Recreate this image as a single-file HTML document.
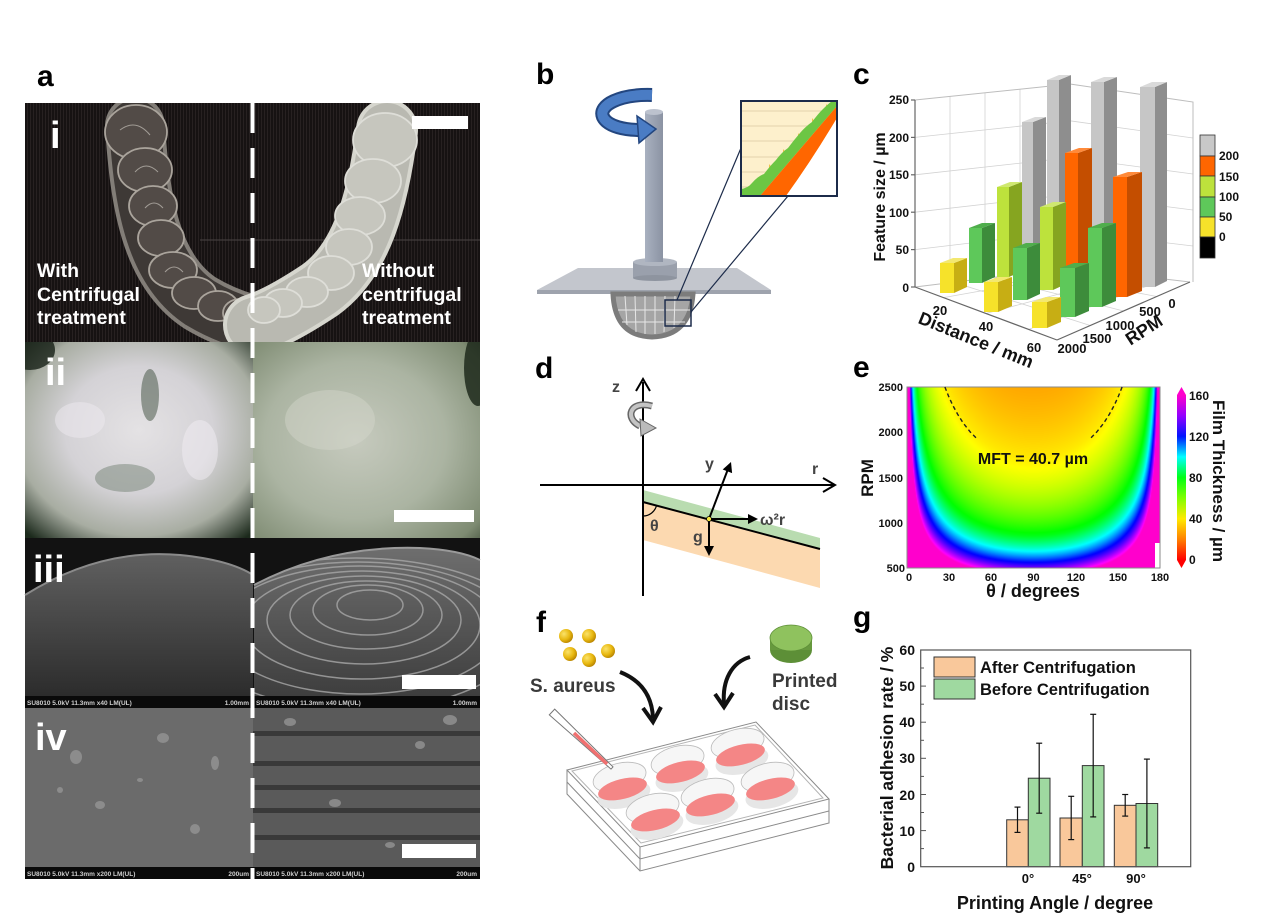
<!DOCTYPE html>
<html><head><meta charset="utf-8">
<style>
html,body{margin:0;padding:0;background:#fff;}
#wrap{position:relative;width:1267px;height:924px;overflow:hidden;background:#fff;}
#hm{position:absolute;left:907px;top:387px;width:253px;height:181px;
background:radial-gradient(ellipse 75% 170% at 50% 0%, #ff9a00 0%, #ffea00 20%, #80ff00 38%, #00ff40 50%, #00ffff 60%, #0015ff 70%, #9400ff 78%, #ff00cc 86%);}
svg{position:absolute;left:0;top:0;}
text{font-family:"Liberation Sans",Arial,sans-serif;font-weight:bold;}
</style></head><body><div id="wrap">
<canvas id="hm" width="253" height="181"></canvas>
<svg width="1267" height="924" viewBox="0 0 1267 924" xmlns="http://www.w3.org/2000/svg">
<defs>
<pattern id="tex" width="3" height="4" patternUnits="userSpaceOnUse"><rect width="3" height="4" fill="#161212"/><rect width="1" height="4" fill="#272121"/></pattern>
<radialGradient id="g2l" cx="0.5" cy="0.45" r="0.72"><stop offset="0" stop-color="#e4e2e4"/><stop offset="0.45" stop-color="#d4d2d6"/><stop offset="0.75" stop-color="#a8ada2"/><stop offset="1" stop-color="#1c2a1c"/></radialGradient>
<radialGradient id="g2r" cx="0.45" cy="0.5" r="0.8"><stop offset="0" stop-color="#c6cabe"/><stop offset="0.5" stop-color="#abb4a2"/><stop offset="0.85" stop-color="#7e8b72"/><stop offset="1" stop-color="#3c4a36"/></radialGradient>
<linearGradient id="domeL" x1="0" y1="0" x2="0" y2="1"><stop offset="0" stop-color="#606060"/><stop offset="1" stop-color="#2c2c2c"/></linearGradient>
<linearGradient id="domeR" x1="0" y1="0" x2="0" y2="1"><stop offset="0" stop-color="#6e6e6e"/><stop offset="1" stop-color="#3e3e3e"/></linearGradient>
<clipPath id="domeRClip"><path d="M254,585 Q330,545 420,548 Q460,550 480,560 L480,696 L254,696 Z"/></clipPath>
<clipPath id="c1"><rect x="25" y="103" width="455" height="240"/></clipPath>
<clipPath id="c2"><rect x="25" y="342" width="455" height="196"/></clipPath>
<linearGradient id="rod" x1="0" y1="0" x2="1" y2="0"><stop offset="0" stop-color="#a9b1c0"/><stop offset="1" stop-color="#8b93a3"/></linearGradient>
<linearGradient id="cbar" x1="0" y1="0" x2="0" y2="1">
<stop offset="0" stop-color="#ff00cc"/><stop offset="0.125" stop-color="#9400ff"/><stop offset="0.25" stop-color="#0015ff"/><stop offset="0.375" stop-color="#00ffff"/><stop offset="0.5" stop-color="#00ff15"/><stop offset="0.625" stop-color="#80ff00"/><stop offset="0.75" stop-color="#ffea00"/><stop offset="0.875" stop-color="#ff8000"/><stop offset="1" stop-color="#ff0000"/></linearGradient>
<radialGradient id="gold" cx="0.35" cy="0.35" r="0.7"><stop offset="0" stop-color="#fbe36a"/><stop offset="0.6" stop-color="#e8b810"/><stop offset="1" stop-color="#b88400"/></radialGradient>
</defs>

<!-- ================= PANEL A ================= -->
<text x="37" y="86" font-size="30" fill="#000">a</text>
<!-- row i -->
<rect x="25" y="103" width="455" height="240" fill="url(#tex)"/>
<line x1="200" y1="240" x2="480" y2="240" stroke="#4a4444" stroke-width="1"/>
<g clip-path="url(#c1)">
<path d="M135,126 C140,200 150,270 200,303 C225,318 245,323 253,325" stroke="#8e8983" stroke-width="60" fill="none" stroke-linecap="round" opacity="0.9"/>
<path d="M135,126 C140,200 150,270 200,303 C225,318 245,323 253,325" stroke="#3e3936" stroke-width="52" fill="none" stroke-linecap="round"/>
<g fill="#524b47" stroke="#aaa49c" stroke-width="1.8">
<ellipse cx="136" cy="132" rx="31" ry="27"/><ellipse cx="145" cy="170" rx="27" ry="22"/><ellipse cx="153" cy="206" rx="24" ry="20"/><ellipse cx="161" cy="238" rx="23" ry="18"/><ellipse cx="173" cy="270" rx="24" ry="18"/><ellipse cx="194" cy="293" rx="22" ry="16"/><ellipse cx="218" cy="306" rx="20" ry="15"/><ellipse cx="240" cy="313" rx="17" ry="14"/>
</g>
<g fill="none" stroke="#d8d4cc" stroke-width="1" opacity="0.6">
<path d="M120,130 Q136,118 150,135"/><path d="M135,172 Q146,160 158,172"/><path d="M145,208 Q154,198 163,208"/><path d="M165,272 Q174,262 183,272"/>
</g>
<path d="M387,130 C378,200 362,260 320,290 C290,310 270,320 254,325" stroke="#d6d6ce" stroke-width="62" fill="none" stroke-linecap="round"/>
<path d="M387,130 C378,200 362,260 320,290 C290,310 270,320 254,325" stroke="#b9b9b1" stroke-width="54" fill="none" stroke-linecap="round"/>
<g fill="#c6c6be" stroke="#dedeD8" stroke-width="1.8">
<ellipse cx="385" cy="140" rx="32" ry="27"/><ellipse cx="373" cy="181" rx="28" ry="22"/><ellipse cx="360" cy="216" rx="25" ry="19"/><ellipse cx="349" cy="247" rx="23" ry="18"/><ellipse cx="331" cy="273" rx="23" ry="17"/><ellipse cx="307" cy="292" rx="21" ry="15"/><ellipse cx="283" cy="303" rx="19" ry="14"/><ellipse cx="264" cy="310" rx="16" ry="13"/>
</g>
</g>
<rect x="412" y="116" width="56" height="13" fill="#fff"/>
<text x="50" y="148" font-size="38" fill="#fff">i</text>
<g font-size="19.5" fill="#fff">
<text x="37" y="277">With</text><text x="37" y="301">Centrifugal</text><text x="37" y="324">treatment</text>
<text x="362" y="277">Without</text><text x="362" y="301">centrifugal</text><text x="362" y="324">treatment</text>
</g>
<!-- row ii -->
<g clip-path="url(#c2)">
<rect x="25" y="342" width="228" height="196" fill="url(#g2l)"/>
<ellipse cx="150" cy="395" rx="9" ry="26" fill="#4a5a4a" opacity="0.55"/>
<ellipse cx="125" cy="478" rx="30" ry="14" fill="#6a7a6a" opacity="0.45"/>
<ellipse cx="200" cy="450" rx="18" ry="30" fill="#f2eef4" opacity="0.5"/>
<ellipse cx="80" cy="420" rx="25" ry="18" fill="#eeeaf0" opacity="0.5"/>
<ellipse cx="30" cy="350" rx="25" ry="20" fill="#162016" opacity="0.8"/>
<rect x="253" y="342" width="227" height="196" fill="url(#g2r)"/>
<ellipse cx="478" cy="368" rx="14" ry="38" fill="#1e2a1c" opacity="0.85"/>
<ellipse cx="330" cy="420" rx="45" ry="30" fill="#d4d6cc" opacity="0.45"/>
</g>
<rect x="394" y="510" width="80" height="12" fill="#fff"/>
<text x="45" y="385" font-size="38" fill="#fff">ii</text>
<!-- row iii -->
<rect x="25" y="538" width="228" height="170" fill="#121212"/>
<path d="M25,595 Q100,548 180,555 Q230,560 253,575 L253,696 L25,696 Z" fill="url(#domeL)"/>
<path d="M25,595 Q100,548 180,555 Q230,560 253,575" stroke="#8a8a8a" stroke-width="2" fill="none"/>
<rect x="253" y="538" width="227" height="170" fill="#121212"/>
<path d="M254,585 Q330,545 420,548 Q460,550 480,560 L480,696 L254,696 Z" fill="url(#domeR)"/>
<g clip-path="url(#domeRClip)" fill="none" stroke="#a8a8a8" stroke-width="1.5" opacity="0.8">
<ellipse cx="370" cy="605" rx="33" ry="15"/><ellipse cx="368" cy="610" rx="55" ry="25"/><ellipse cx="366" cy="615" rx="76" ry="34"/><ellipse cx="364" cy="620" rx="97" ry="44"/><ellipse cx="362" cy="625" rx="118" ry="54"/><ellipse cx="360" cy="630" rx="140" ry="64"/><ellipse cx="358" cy="636" rx="162" ry="74"/><ellipse cx="356" cy="642" rx="184" ry="84"/>
</g>
<path d="M254,585 Q330,545 420,548 Q460,550 480,560" stroke="#9a9a9a" stroke-width="2" fill="none"/>
<rect x="25" y="696" width="455" height="12" fill="#0a0a0a"/>
<g font-size="6.5" fill="#cfcfcf" style="font-weight:normal">
<text x="27" y="705">SU8010 5.0kV 11.3mm x40 LM(UL)</text><text x="249" y="705" text-anchor="end">1.00mm</text>
<text x="256" y="705">SU8010 5.0kV 11.3mm x40 LM(UL)</text><text x="477" y="705" text-anchor="end">1.00mm</text>
</g>
<rect x="402" y="675" width="74" height="14" fill="#fff"/>
<text x="33" y="582" font-size="38" fill="#fff">iii</text>
<!-- row iv -->
<rect x="25" y="708" width="228" height="171" fill="#6b6b6b"/>
<g fill="#8c8c8c"><ellipse cx="163" cy="738" rx="6" ry="5"/><ellipse cx="76" cy="757" rx="6" ry="7"/><ellipse cx="215" cy="763" rx="4" ry="7"/><ellipse cx="195" cy="829" rx="5" ry="5"/><ellipse cx="100" cy="805" rx="5" ry="4"/><ellipse cx="60" cy="790" rx="3" ry="3"/><ellipse cx="140" cy="780" rx="3" ry="2"/></g>
<rect x="253" y="708" width="227" height="171" fill="#5a5a5a"/>
<g fill="#393939"><rect x="253" y="731" width="227" height="5"/><rect x="253" y="761" width="227" height="5"/><rect x="253" y="785" width="227" height="5"/><rect x="253" y="808" width="227" height="5"/><rect x="253" y="835" width="227" height="5"/></g>
<g fill="#888"><ellipse cx="290" cy="722" rx="6" ry="4"/><ellipse cx="420" cy="745" rx="5" ry="4"/><ellipse cx="335" cy="803" rx="6" ry="4"/><ellipse cx="450" cy="720" rx="7" ry="5"/><ellipse cx="390" cy="845" rx="5" ry="3"/></g>
<rect x="25" y="867" width="455" height="12" fill="#0a0a0a"/>
<g font-size="6.5" fill="#cfcfcf" style="font-weight:normal">
<text x="27" y="876">SU8010 5.0kV 11.3mm x200 LM(UL)</text><text x="249" y="876" text-anchor="end">200um</text>
<text x="256" y="876">SU8010 5.0kV 11.3mm x200 LM(UL)</text><text x="477" y="876" text-anchor="end">200um</text>
</g>
<rect x="402" y="844" width="74" height="14" fill="#fff"/>
<text x="35" y="750" font-size="38" fill="#fff">iv</text>
<line x1="252.5" y1="103" x2="252.5" y2="879" stroke="#fff" stroke-width="4" stroke-dasharray="30 15"/>

<!-- ================= PANEL B ================= -->
<text x="536" y="84" font-size="30" fill="#000">b</text>
<polygon points="578,268 737,268 771,290 537,290" fill="#c3c6cd"/>
<polygon points="537,290 771,290 771,294 537,294" fill="#9ea3ad"/>
<path d="M613,294 Q615,336 652,337 Q690,336 693,294 Z" fill="#a5a5a5" stroke="#7c7c7c" stroke-width="5"/>
<g stroke="#e6e6e6" stroke-width="1"><line x1="625" y1="296" x2="627" y2="325"/><line x1="635" y1="296" x2="636" y2="332"/><line x1="645" y1="296" x2="645" y2="334"/><line x1="655" y1="296" x2="655" y2="334"/><line x1="665" y1="296" x2="664" y2="332"/><line x1="675" y1="296" x2="674" y2="328"/><line x1="618" y1="310" x2="690" y2="310"/><line x1="622" y1="322" x2="685" y2="322"/></g>
<rect x="633" y="262" width="44" height="16" fill="#9aa0ac"/>
<ellipse cx="655" cy="278" rx="22" ry="3" fill="#8e949f"/>
<ellipse cx="655" cy="262" rx="22" ry="4" fill="#b0b6c1"/>
<rect x="645" y="112" width="18" height="150" fill="url(#rod)"/>
<ellipse cx="654" cy="112" rx="9" ry="3" fill="#bcc2ce"/>
<path d="M652,95 C620,94 598,105 603,117 C608,127 626,130 640,130" stroke="#23467f" stroke-width="14" fill="none"/>
<path d="M652,95 C620,94 598,105 603,117 C608,127 626,130 640,130" stroke="#4a7cc4" stroke-width="10" fill="none"/>
<polygon points="637,116 656,129 639,143" fill="#4a7cc4" stroke="#23467f" stroke-width="1.5"/>
<rect x="665" y="300" width="26" height="26" fill="none" stroke="#1c2b4a" stroke-width="1.5"/>
<line x1="677" y1="300" x2="741" y2="148" stroke="#1c2b4a" stroke-width="1.2"/>
<line x1="691" y1="312" x2="788" y2="196" stroke="#1c2b4a" stroke-width="1.2"/>
<rect x="741" y="101" width="96" height="95" fill="#fdf0cc"/>
<g stroke="#d9c9a0" stroke-width="0.8"><line x1="741" y1="111" x2="826" y2="111"/><line x1="741" y1="126" x2="812" y2="126"/><line x1="741" y1="141" x2="798" y2="141"/><line x1="741" y1="157" x2="783" y2="157"/><line x1="741" y1="172" x2="769" y2="172"/><line x1="741" y1="187" x2="755" y2="187"/></g>
<g fill="#f3c24a"><polygon points="826,111 832,111 826,104"/><polygon points="812,126 818,126 812,118"/><polygon points="798,141 804,141 798,133"/><polygon points="783,157 790,157 783,149"/><polygon points="769,172 776,172 769,164"/><polygon points="755,187 762,187 755,180"/></g>
<path d="M741,196 L741,189 Q748,188 752,183 Q758,176 764,174 Q770,166 776,160 Q782,152 788,148 Q794,140 800,133 Q806,126 812,122 Q818,114 822,110 Q828,104 832,101 L837,101 L837,106 L760,196 Z" fill="#6cc644"/>
<path d="M760,196 L837,106 L837,118 Q812,160 786,196 Z" fill="#ff6600"/>
<path d="M786,196 Q812,160 837,118 L837,196 Z" fill="#fff"/>
<rect x="741" y="101" width="96" height="95" fill="none" stroke="#1c2b4a" stroke-width="2"/>

<!-- ================= PANEL C ================= -->
<text x="853" y="84" font-size="30" fill="#000">c</text>
<g stroke="#d2d2d2" stroke-width="0.8" fill="none">
<line x1="915" y1="249.6" x2="1070" y2="231.2"/><line x1="915" y1="212.2" x2="1070" y2="194.4"/><line x1="915" y1="174.8" x2="1070" y2="157.6"/><line x1="915" y1="137.4" x2="1070" y2="120.8"/>
<line x1="1070" y1="231.2" x2="1193" y2="246"/><line x1="1070" y1="194.4" x2="1193" y2="210"/><line x1="1070" y1="157.6" x2="1193" y2="174"/><line x1="1070" y1="120.8" x2="1193" y2="138"/>
<line x1="950" y1="96.4" x2="950" y2="282.7"/><line x1="985" y1="92.8" x2="985" y2="278.4"/><line x1="1020" y1="89.2" x2="1020" y2="274.1"/><line x1="1070" y1="84" x2="1070" y2="268"/>
<line x1="1110" y1="89.9" x2="1110" y2="272.6"/><line x1="1150" y1="95.7" x2="1150" y2="277.1"/>
<line x1="943.4" y1="297.6" x2="1094" y2="270.8"/><line x1="986" y1="313.5" x2="1130" y2="275"/><line x1="1028.6" y1="329.4" x2="1166" y2="279.2"/>
<line x1="953.75" y1="282.25" x2="1090.25" y2="325.5"/><line x1="992.5" y1="277.5" x2="1123.5" y2="311"/><line x1="1031" y1="272.75" x2="1156.75" y2="296.5"/>
</g>
<g stroke="#bdbdbd" stroke-width="1" fill="none">
<polyline points="915,100 1070,84 1193,102 1193,282"/><line x1="915" y1="287" x2="1070" y2="268"/><line x1="1070" y1="268" x2="1190" y2="282"/>
</g>
<!-- bars row RPM 0 -->
<g>
<rect x="1047" y="80" width="12" height="183" fill="#c6c6c6"/><polygon points="1059,80 1071,75 1071,257 1059,263" fill="#8e8e8e"/><polygon points="1047,80 1059,80 1071,75 1059,75" fill="#dadada"/>
<rect x="1091" y="82" width="13" height="195" fill="#c6c6c6"/><polygon points="1104,82 1117,77 1117,271 1104,277" fill="#8e8e8e"/><polygon points="1091,82 1104,82 1117,77 1104,77" fill="#dadada"/>
<rect x="1140" y="87" width="15" height="200" fill="#c6c6c6"/><polygon points="1155,87 1167,82 1167,281 1155,287" fill="#8e8e8e"/><polygon points="1140,87 1155,87 1167,82 1152,82" fill="#dadada"/>
</g>
<!-- row 500 -->
<g>
<rect x="1022" y="122" width="11" height="148" fill="#c6c6c6"/><polygon points="1033,122 1046,117 1046,264 1033,270" fill="#8e8e8e"/><polygon points="1022,122 1033,122 1046,117 1035,117" fill="#dadada"/>
<rect x="1065" y="153" width="13" height="130" fill="#ff6600"/><polygon points="1078,153 1092,148 1092,277 1078,283" fill="#c44e00"/><polygon points="1065,153 1078,153 1092,148 1079,148" fill="#ff8a3a"/>
<rect x="1113" y="177" width="14" height="120" fill="#ff6600"/><polygon points="1127,177 1142,172 1142,291 1127,297" fill="#c44e00"/><polygon points="1113,177 1127,177 1142,172 1128,172" fill="#ff8a3a"/>
</g>
<!-- row 1000 -->
<g>
<rect x="997" y="187" width="12" height="90" fill="#bde23c"/><polygon points="1009,187 1022,182 1022,271 1009,277" fill="#86a520"/><polygon points="997,187 1009,187 1022,182 1010,182" fill="#cfe870"/>
<rect x="1040" y="207" width="13" height="83" fill="#bde23c"/><polygon points="1053,207 1066,202 1066,284 1053,290" fill="#86a520"/><polygon points="1040,207 1053,207 1066,202 1053,202" fill="#cfe870"/>
<rect x="1088" y="228" width="14" height="79" fill="#5ec85a"/><polygon points="1102,228 1116,223 1116,301 1102,307" fill="#3d8c3b"/><polygon points="1088,228 1102,228 1116,223 1102,223" fill="#4fae4c"/>
</g>
<!-- row 1500 -->
<g>
<rect x="969" y="228" width="13" height="55" fill="#5ec85a"/><polygon points="982,228 995,223 995,277 982,283" fill="#3d8c3b"/><polygon points="969,228 982,228 995,223 982,223" fill="#4fae4c"/>
<rect x="1013" y="248" width="14" height="52" fill="#5ec85a"/><polygon points="1027,248 1040,243 1040,294 1027,300" fill="#3d8c3b"/><polygon points="1013,248 1027,248 1040,243 1026,243" fill="#4fae4c"/>
<rect x="1060" y="268" width="15" height="49" fill="#5ec85a"/><polygon points="1075,268 1089,263 1089,311 1075,317" fill="#3d8c3b"/><polygon points="1060,268 1075,268 1089,263 1074,263" fill="#4fae4c"/>
</g>
<!-- row 2000 -->
<g>
<rect x="940" y="263" width="14" height="30" fill="#f6e22a"/><polygon points="954,263 967,258 967,287 954,293" fill="#c7ae14"/><polygon points="940,263 954,263 967,258 953,258" fill="#f3e870"/>
<rect x="984" y="282" width="14" height="30" fill="#f6e22a"/><polygon points="998,282 1012,277 1012,306 998,312" fill="#c7ae14"/><polygon points="984,282 998,282 1012,277 998,277" fill="#f3e870"/>
<rect x="1032" y="302" width="15" height="26" fill="#f6e22a"/><polygon points="1047,302 1061,297 1061,322 1047,328" fill="#c7ae14"/><polygon points="1032,302 1047,302 1061,297 1046,297" fill="#f3e870"/>
</g>
<g stroke="#666" stroke-width="1.2" fill="none">
<line x1="915" y1="100" x2="915" y2="287"/><line x1="915" y1="287" x2="1057" y2="340"/><line x1="1057" y1="340" x2="1190" y2="282"/>
<line x1="911" y1="100" x2="915" y2="100"/><line x1="911" y1="137.4" x2="915" y2="137.4"/><line x1="911" y1="174.8" x2="915" y2="174.8"/><line x1="911" y1="212.2" x2="915" y2="212.2"/><line x1="911" y1="249.6" x2="915" y2="249.6"/><line x1="911" y1="287" x2="915" y2="287"/>
</g>
<g font-size="12" fill="#111" text-anchor="end">
<text x="909" y="104">250</text><text x="909" y="142">200</text><text x="909" y="179">150</text><text x="909" y="217">100</text><text x="909" y="254">50</text><text x="909" y="292">0</text>
</g>
<text transform="translate(885,197) rotate(-90)" font-size="16" text-anchor="middle" fill="#111">Feature size / µm</text>
<g font-size="13" fill="#111" text-anchor="middle">
<text x="940" y="315">20</text><text x="986" y="331">40</text><text x="1034" y="352">60</text>
<text x="1072" y="353">2000</text><text x="1097" y="343">1500</text><text x="1120" y="330">1000</text><text x="1150" y="316">500</text><text x="1172" y="308">0</text>
</g>
<text transform="translate(976,340) rotate(22)" font-size="18" text-anchor="middle" fill="#111" y="6">Distance / mm</text>
<text transform="translate(1144,330) rotate(-33)" font-size="18" text-anchor="middle" fill="#111" y="6">RPM</text>
<g stroke="#333" stroke-width="0.8">
<rect x="1200" y="135" width="15" height="21" fill="#c8c8c8"/><rect x="1200" y="156" width="15" height="20" fill="#ff6600"/><rect x="1200" y="176" width="15" height="21" fill="#bde23c"/><rect x="1200" y="197" width="15" height="20" fill="#5ec85a"/><rect x="1200" y="217" width="15" height="20" fill="#f6e22a"/><rect x="1200" y="237" width="15" height="21" fill="#000"/>
</g>
<g font-size="12" fill="#111"><text x="1219" y="160">200</text><text x="1219" y="181">150</text><text x="1219" y="201">100</text><text x="1219" y="221">50</text><text x="1219" y="241">0</text></g>

<!-- ================= PANEL D ================= -->
<text x="535" y="378" font-size="30" fill="#000">d</text>
<polygon points="643,490 820,538 820,549 643,502" fill="#b9dcb0"/>
<polygon points="643,502 820,549 820,588 643,540" fill="#fcd9b0"/>
<line x1="643" y1="382" x2="643" y2="596" stroke="#000" stroke-width="2"/>
<polyline points="636,391 643,379 650,391" stroke="#000" stroke-width="2" fill="none"/>
<line x1="540" y1="485" x2="833" y2="485" stroke="#000" stroke-width="2"/>
<polyline points="823,478 835,485 823,492" stroke="#000" stroke-width="2" fill="none"/>
<line x1="643" y1="502" x2="820" y2="549" stroke="#000" stroke-width="2"/>
<path d="M643,516 A14,14 0 0 0 656.5,505.6" stroke="#000" stroke-width="1.2" fill="none"/>
<line x1="709" y1="519" x2="728" y2="469" stroke="#000" stroke-width="2"/>
<polygon points="731,462 732.1,473.1 722.7,469.5" fill="#000"/>
<line x1="709" y1="519" x2="750" y2="519" stroke="#000" stroke-width="2"/>
<polygon points="758,519 748,514 748,524" fill="#000"/>
<line x1="709" y1="519" x2="709" y2="548" stroke="#000" stroke-width="2"/>
<polygon points="709,556 704,546 714,546" fill="#000"/>
<circle cx="709" cy="519" r="2.5" fill="#f5e642" stroke="#000" stroke-width="0.8"/>
<path d="M652,406 C630,400 624,418 640,426" stroke="#666" stroke-width="7" fill="none"/>
<path d="M652,406 C630,400 624,418 640,426" stroke="#c4c4c4" stroke-width="4" fill="none"/>
<polygon points="640,419 656,428 641,436" fill="#bbb" stroke="#666" stroke-width="1"/>
<g font-size="16" fill="#444">
<text x="612" y="392">z</text><text x="812" y="474">r</text><text x="705" y="469">y</text><text x="760" y="525">ω²r</text><text x="693" y="542">g</text><text x="650" y="531">θ</text>
</g>

<!-- ================= PANEL E ================= -->
<text x="853" y="377" font-size="30" fill="#000">e</text>
<rect x="1155" y="543" width="5" height="25" fill="#fff"/>
<rect x="907" y="387" width="253" height="181" fill="none" stroke="#8a8a8a" stroke-width="1"/>
<polyline points="944.9,387 948.5,396 952.6,405 957.5,414 963.3,423.2 970.5,432.25 976.7,438.5" fill="none" stroke="#222" stroke-width="1.4" stroke-dasharray="4 3"/>
<polyline points="1122.1,387 1118.5,396 1114.4,405 1109.5,414 1103.7,423.2 1096.5,432.25 1090.3,438.5" fill="none" stroke="#222" stroke-width="1.4" stroke-dasharray="4 3"/>
<text x="1033" y="464" font-size="16" text-anchor="middle" fill="#111">MFT = 40.7 µm</text>
<g font-size="11" fill="#111" text-anchor="end">
<text x="903" y="391">2500</text><text x="903" y="436">2000</text><text x="903" y="482">1500</text><text x="903" y="527">1000</text><text x="905" y="572">500</text>
</g>
<g font-size="11" fill="#111" text-anchor="middle">
<text x="909" y="581">0</text><text x="949" y="581">30</text><text x="991" y="581">60</text><text x="1033.5" y="581">90</text><text x="1076" y="581">120</text><text x="1118" y="581">150</text><text x="1160" y="581">180</text>
</g>
<text transform="translate(873,478) rotate(-90)" font-size="17" text-anchor="middle" fill="#111">RPM</text>
<text x="1033" y="597" font-size="18" text-anchor="middle" fill="#111">θ / degrees</text>
<rect x="1177" y="395" width="9" height="165" fill="url(#cbar)"/>
<polygon points="1177,395 1181.5,387 1186,395" fill="#ff00cc"/>
<polygon points="1177,560 1181.5,568 1186,560" fill="#ff0000"/>
<g font-size="12" fill="#111">
<text x="1189" y="400">160</text><text x="1189" y="441">120</text><text x="1189" y="482">80</text><text x="1189" y="523">40</text><text x="1189" y="564">0</text>
</g>
<text transform="translate(1213,481) rotate(90)" font-size="17" text-anchor="middle" fill="#111">Film Thickness / µm</text>

<!-- ================= PANEL F ================= -->
<text x="536" y="632" font-size="30" fill="#000">f</text>
<g fill="url(#gold)"><circle cx="566" cy="636" r="7"/><circle cx="589" cy="636" r="7"/><circle cx="608" cy="651" r="7"/><circle cx="570" cy="654" r="7"/><circle cx="589" cy="660" r="7"/></g>
<text x="530" y="692" font-size="19" fill="#3a3a3a">S. aureus</text>
<ellipse cx="791" cy="650" rx="21" ry="13" fill="#5d8f37"/>
<rect x="770" y="638" width="42" height="12" fill="#67993e"/>
<ellipse cx="791" cy="638" rx="21" ry="13" fill="#8fc25e" stroke="#5d8f37" stroke-width="0.8"/>
<text x="772" y="687" font-size="19" fill="#3a3a3a">Printed</text>
<text x="772" y="710" font-size="19" fill="#3a3a3a">disc</text>
<path d="M620,672 C640,680 652,695 653,718" stroke="#111" stroke-width="4" fill="none"/>
<polyline points="643,708 653,722 661,707" stroke="#111" stroke-width="4" fill="none"/>
<path d="M750,657 C732,662 722,680 724,704" stroke="#111" stroke-width="4" fill="none"/>
<polyline points="715,694 724,707 733,693" stroke="#111" stroke-width="4" fill="none"/>
<!-- plate -->
<g stroke="#8a8a8a" stroke-width="1" fill="none">
<polygon points="567,770 756,722 829,799 640,847"/>
<polyline points="567,770 567,782 640,859 829,811 829,799"/>
<line x1="640" y1="847" x2="640" y2="859"/>
<polyline points="567,782 567,794 640,871 829,823 829,811"/>
<line x1="640" y1="859" x2="640" y2="871"/>
<polygon points="572,771 755,725 823,798 641,843" stroke="#b5b5b5"/>
</g>
<g>
<g transform="rotate(-14 622 787)"><ellipse cx="622" cy="795" rx="27" ry="13" fill="#e6e6e6"/><ellipse cx="622" cy="777" rx="27" ry="14" fill="#f6f6f6" stroke="#bbb" stroke-width="0.8"/><ellipse cx="622" cy="789" rx="25" ry="10" fill="#f48686"/></g>
<g transform="rotate(-14 680 770)"><ellipse cx="680" cy="778" rx="27" ry="13" fill="#e6e6e6"/><ellipse cx="680" cy="760" rx="27" ry="14" fill="#f6f6f6" stroke="#bbb" stroke-width="0.8"/><ellipse cx="680" cy="772" rx="25" ry="10" fill="#f48686"/></g>
<g transform="rotate(-14 740 753)"><ellipse cx="740" cy="761" rx="27" ry="13" fill="#e6e6e6"/><ellipse cx="740" cy="743" rx="27" ry="14" fill="#f6f6f6" stroke="#bbb" stroke-width="0.8"/><ellipse cx="740" cy="755" rx="25" ry="10" fill="#f48686"/></g>
<g transform="rotate(-14 655 818)"><ellipse cx="655" cy="826" rx="27" ry="13" fill="#e6e6e6"/><ellipse cx="655" cy="808" rx="27" ry="14" fill="#f6f6f6" stroke="#bbb" stroke-width="0.8"/><ellipse cx="655" cy="820" rx="25" ry="10" fill="#f48686"/></g>
<g transform="rotate(-14 710 803)"><ellipse cx="710" cy="811" rx="27" ry="13" fill="#e6e6e6"/><ellipse cx="710" cy="793" rx="27" ry="14" fill="#f6f6f6" stroke="#bbb" stroke-width="0.8"/><ellipse cx="710" cy="805" rx="25" ry="10" fill="#f48686"/></g>
<g transform="rotate(-14 770 787)"><ellipse cx="770" cy="795" rx="27" ry="13" fill="#e6e6e6"/><ellipse cx="770" cy="777" rx="27" ry="14" fill="#f6f6f6" stroke="#bbb" stroke-width="0.8"/><ellipse cx="770" cy="789" rx="25" ry="10" fill="#f48686"/></g>
</g>
<polygon points="554.7,709.1 613,766.9 611,769.1 549.3,714.9" fill="#fff" stroke="#777" stroke-width="1"/>
<line x1="574" y1="733" x2="607" y2="764" stroke="#f07070" stroke-width="3.5"/>

<!-- ================= PANEL G ================= -->
<text x="853" y="627" font-size="30" fill="#000">g</text>
<g stroke="#333" stroke-width="1">
<rect x="1006.7" y="819.8" width="21.6" height="46.9" fill="#f9c89b"/>
<rect x="1028.3" y="778.2" width="21.7" height="88.5" fill="#9fd9a0"/>
<rect x="1060" y="818" width="22.3" height="48.7" fill="#f9c89b"/>
<rect x="1082.3" y="765.6" width="21.7" height="101.1" fill="#9fd9a0"/>
<rect x="1114.3" y="805.3" width="21.7" height="61.4" fill="#f9c89b"/>
<rect x="1136" y="803.5" width="21.7" height="63.2" fill="#9fd9a0"/>
</g>
<g stroke="#111" stroke-width="1.2">
<line x1="1017.5" y1="832.4" x2="1017.5" y2="807.1"/><line x1="1014.5" y1="832.4" x2="1020.5" y2="832.4"/><line x1="1014.5" y1="807.1" x2="1020.5" y2="807.1"/>
<line x1="1039.2" y1="813.2" x2="1039.2" y2="743.2"/><line x1="1036.2" y1="813.2" x2="1042.2" y2="813.2"/><line x1="1036.2" y1="743.2" x2="1042.2" y2="743.2"/>
<line x1="1071.2" y1="839.6" x2="1071.2" y2="796.3"/><line x1="1068.2" y1="839.6" x2="1074.2" y2="839.6"/><line x1="1068.2" y1="796.3" x2="1074.2" y2="796.3"/>
<line x1="1093.2" y1="816.9" x2="1093.2" y2="714.3"/><line x1="1090.2" y1="816.9" x2="1096.2" y2="816.9"/><line x1="1090.2" y1="714.3" x2="1096.2" y2="714.3"/>
<line x1="1125.2" y1="816.1" x2="1125.2" y2="794.5"/><line x1="1122.2" y1="816.1" x2="1128.2" y2="816.1"/><line x1="1122.2" y1="794.5" x2="1128.2" y2="794.5"/>
<line x1="1146.9" y1="847.9" x2="1146.9" y2="759.1"/><line x1="1143.9" y1="847.9" x2="1149.9" y2="847.9"/><line x1="1143.9" y1="759.1" x2="1149.9" y2="759.1"/>
</g>
<rect x="920.7" y="650" width="270" height="216.7" fill="none" stroke="#555" stroke-width="1.2"/>
<g stroke="#555" stroke-width="1">
<line x1="920.7" y1="686.1" x2="926" y2="686.1"/><line x1="920.7" y1="722.2" x2="926" y2="722.2"/><line x1="920.7" y1="758.3" x2="926" y2="758.3"/><line x1="920.7" y1="794.5" x2="926" y2="794.5"/><line x1="920.7" y1="830.6" x2="926" y2="830.6"/>
<line x1="920.7" y1="668" x2="924" y2="668"/><line x1="920.7" y1="704.2" x2="924" y2="704.2"/><line x1="920.7" y1="740.3" x2="924" y2="740.3"/><line x1="920.7" y1="776.4" x2="924" y2="776.4"/><line x1="920.7" y1="812.5" x2="924" y2="812.5"/><line x1="920.7" y1="848.6" x2="924" y2="848.6"/>
</g>
<g font-size="14" fill="#111" text-anchor="end">
<text x="915" y="655">60</text><text x="915" y="691">50</text><text x="915" y="727">40</text><text x="915" y="763">30</text><text x="915" y="800">20</text><text x="915" y="836">10</text><text x="915" y="872">0</text>
</g>
<rect x="934" y="657" width="41" height="20" fill="#f9c89b" stroke="#333" stroke-width="1"/>
<rect x="934" y="679" width="41" height="20" fill="#9fd9a0" stroke="#333" stroke-width="1"/>
<text x="980" y="673" font-size="16.5" fill="#111">After Centrifugation</text>
<text x="980" y="695" font-size="16.5" fill="#111">Before Centrifugation</text>
<g font-size="13" fill="#111" text-anchor="middle"><text x="1028" y="883">0°</text><text x="1082" y="883">45°</text><text x="1136" y="883">90°</text></g>
<text x="1055" y="909" font-size="18" text-anchor="middle" fill="#111">Printing Angle / degree</text>
<text transform="translate(893,758) rotate(-90)" font-size="17.5" text-anchor="middle" fill="#111">Bacterial adhesion rate / %</text>
</svg>
</div>
<script>
(function(){
var c=document.getElementById('hm'); if(!c||!c.getContext) return;
var ctx=c.getContext('2d'); if(!ctx) return;
var W=253,H=181; var img=ctx.createImageData(W,H);
var hs=[[0,0],[20,30],[40,55],[60,90],[80,125],[100,180],[120,235],[140,275],[160,312]];
function hue(h){ if(h<=0) return 0; if(h>=160) return 312; for(var i=1;i<hs.length;i++){ if(h<=hs[i][0]){var a=hs[i-1],b=hs[i]; return a[1]+(b[1]-a[1])*(h-a[0])/(b[0]-a[0]);}} return 312;}
function rgb(H){ var h=H/60; var x=1-Math.abs(h%2-1); var r,g,b;
 if(h<1){r=1;g=x;b=0}else if(h<2){r=x;g=1;b=0}else if(h<3){r=0;g=1;b=x}else if(h<4){r=0;g=x;b=1}else if(h<5){r=x;g=0;b=1}else{r=1;g=0;b=x}
 return [r*255,g*255,b*255];}
for(var j=0;j<H;j++){ var rpm=2500-(j+0.5)/H*2000;
 for(var i=0;i<W;i++){ var th=(i+0.5)/W*Math.PI; var s=Math.sin(th);
  var h=68570/(rpm*Math.sqrt(s)); var col=rgb(hue(h)); var k=(j*W+i)*4;
  img.data[k]=col[0];img.data[k+1]=col[1];img.data[k+2]=col[2];img.data[k+3]=255;}}
ctx.putImageData(img,0,0);
})();
</script>
</body></html>
